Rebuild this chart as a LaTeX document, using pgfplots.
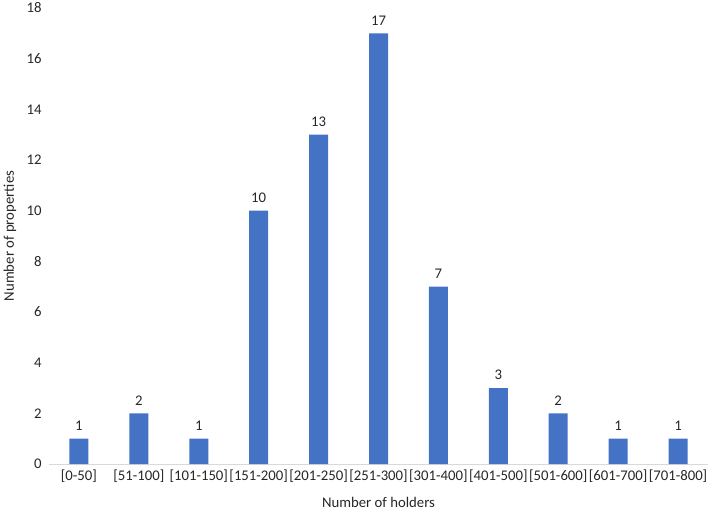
\documentclass[border=0pt]{standalone}
\usepackage{pgfplots}
\pgfplotsset{compat=1.18}
\usepackage{fontspec}
\setmainfont{Carlito}
\definecolor{barblue}{HTML}{4472C4}
\definecolor{axgray}{HTML}{D9D9D9}
\definecolor{txt}{HTML}{262626}
\begin{document}
\begin{tikzpicture}
\begin{axis}[
  scale only axis,
  width=659bp, height=456bp,
  xmin=-0.5, xmax=10.5,
  ymin=0, ymax=18,
  ytick={0,2,...,18},
  xtick={0,...,10},
  xticklabels={{[0-50]},{[51-100]},{[101-150]},{[151-200]},{[201-250]},{[251-300]},{[301-400]},{[401-500]},{[501-600]},{[601-700]},{[701-800]}},
  axis y line*=left,
  y axis line style={draw=none},
  axis x line*=bottom,
  x axis line style={axgray, line width=0.8pt, -},
  major tick length=0pt,
  tick style={draw=none},
  font=\fontsize{14.8}{17}\selectfont,
  tick label style={font=\fontsize{14.8}{17}\selectfont, text=txt},
  /pgf/number format/assume math mode=true,
  yticklabel style={xshift=-4bp},
  xticklabel style={yshift=-2bp},
  ylabel={Number of properties},
  xlabel={Number of holders},
  ylabel style={at={(axis description cs:-0.0592,0.5)}, anchor=center, rotate=0, text=txt},
  xlabel style={at={(axis description cs:0.5,-0.0833)}, anchor=center, text=txt},
  ybar, bar width=19bp,
  nodes near coords,
  nodes near coords style={font=\fontsize{14.8}{17}\selectfont, text=txt, inner sep=0pt, yshift=8bp},
  clip=false,
]
\addplot[fill=barblue, draw=none] coordinates {
(0,1) (1,2) (2,1) (3,10) (4,13) (5,17) (6,7) (7,3) (8,2) (9,1) (10,1)
};
\end{axis}
\pgfresetboundingbox
\path ([shift={(-49bp,-51bp)}]current axis.south west) rectangle ([shift={(0bp,8bp)}]current axis.north east);
\end{tikzpicture}
\end{document}
